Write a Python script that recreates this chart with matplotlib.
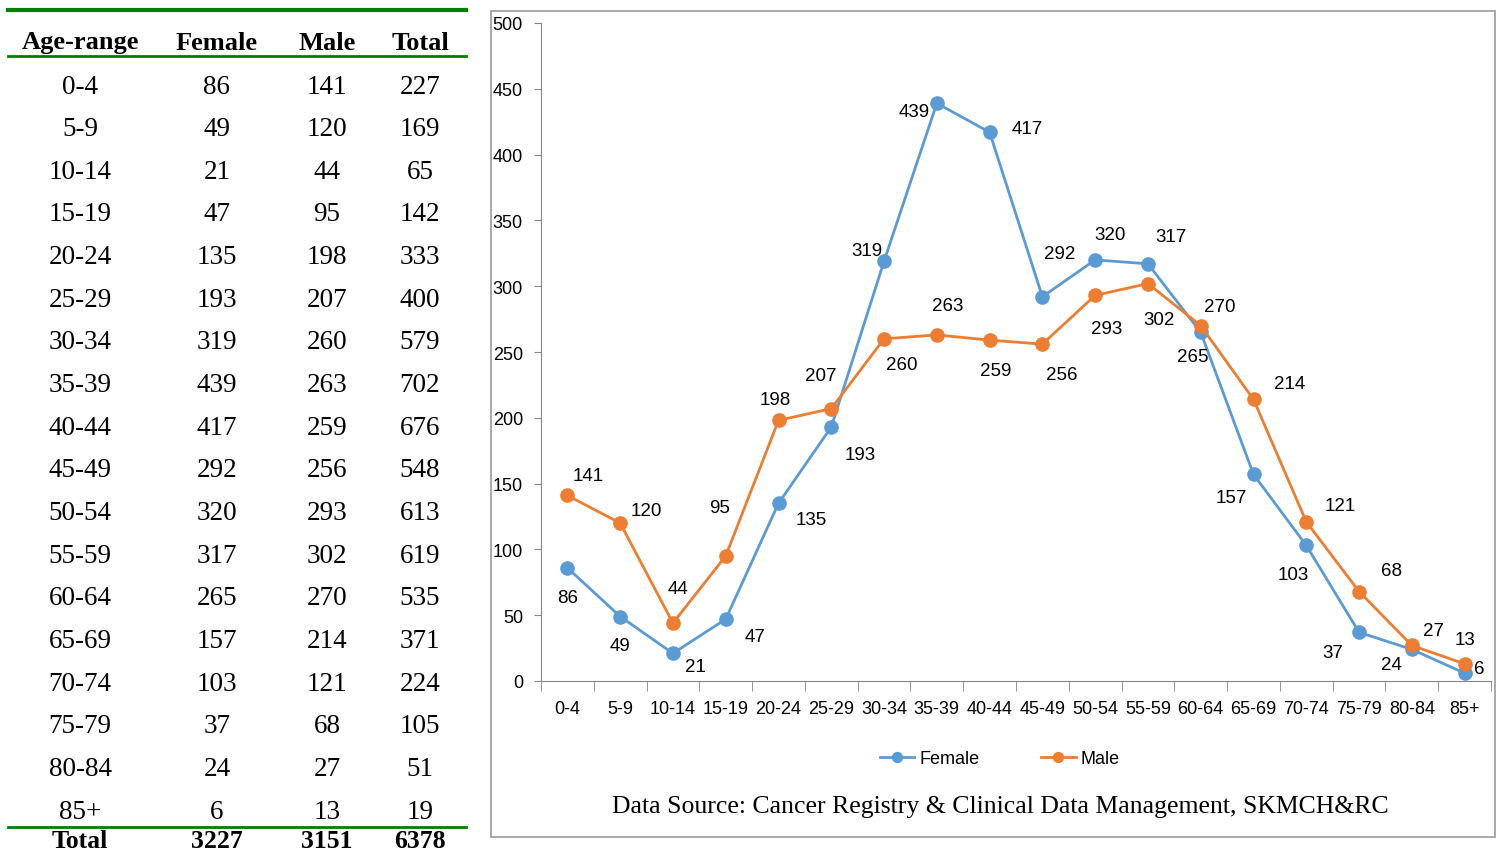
import matplotlib.pyplot as plt
from matplotlib.patches import Rectangle
from matplotlib.lines import Line2D
import numpy as np

# Datos
age_ranges = ["0-4", "5-9", "10-14", "15-19", "20-24", "25-29", "30-34", "35-39",
              "40-44", "45-49", "50-54", "55-59", "60-64", "65-69", "70-74",
              "75-79", "80-84", "85+"]
female = [86, 49, 21, 47, 135, 193, 319, 439, 417, 292, 320, 317, 265, 157, 103, 37, 24, 6]
male = [141, 120, 44, 95, 198, 207, 260, 263, 259, 256, 293, 302, 270, 214, 121, 68, 27, 13]
total = [227, 169, 65, 142, 333, 400, 579, 702, 676, 548, 613, 619, 535, 371, 224, 105, 51, 19]
sum_female, sum_male, sum_total = 3227, 3151, 6378
y_ticks = list(range(0, 501, 50))

# Desplazamiento de etiquetas (pixeles)
female_off = [(0, -28), (0, -27), (22, -11), (29, -15), (33, -14), (29, -25), (-17, 13), (-23, -6),
              (38, 6), (17, 45), (15, 27), (23, 29), (-8, -22), (-22, -21), (-13, -27), (-26, -18),
              (-20, -13), (15, 7)]
male_off = [(21, 22), (26, 15), (5, 37), (-6, 50), (-3, 23), (-11, 35), (18, -24), (11, 31),
            (6, -28), (19, -28), (11, -31), (11, -34), (19, 21), (36, 18), (34, 18), (32, 23),
            (22, 17), (0, 26)]

W, H = 1500, 854
fig = plt.figure(figsize=(15, 8.54), dpi=100)
fig.patch.set_facecolor("white")

def fx(px):
    return px / W

def fy(py):
    return 1 - py / H

# Tabla
serif = "Liberation Serif"
green = "#008000"
col_x = [80, 217, 327, 420]
header = ["Age-range", "Female", "Male", "Total"]
for cx, h in zip(col_x, header):
    fig.text(fx(cx), fy(43), h, ha="center", va="center", family=serif,
             fontsize=19, fontweight="bold")
for i in range(len(age_ranges)):
    yy = fy(87 + 42.65 * i)
    vals = [age_ranges[i], female[i], male[i], total[i]]
    for cx, v in zip(col_x, vals):
        fig.text(fx(cx), yy, str(v), ha="center", va="center", family=serif, fontsize=19.5)
for cx, v in zip(col_x, ["Total", sum_female, sum_male, sum_total]):
    fig.text(fx(cx), fy(842), str(v), ha="center", va="center", family=serif,
             fontsize=18.5, fontweight="bold")
for py, lw in [(11, 3), (57, 2), (828, 2)]:
    fig.add_artist(Line2D([fx(8), fx(466)], [fy(py), fy(py)], color=green, lw=lw))

# Marco del grafico
fig.add_artist(Rectangle((fx(491), fy(838)), fx(1004), 826 / H, fill=False,
                         edgecolor="#9a9a9a", lw=1.2))

# Grafico
ax = fig.add_axes([fx(541), fy(682), fx(950), (682 - 24) / H])
x = np.arange(len(age_ranges))
blue, orange = "#5B9BD5", "#ED7D31"
ax.plot(x, female, color=blue, lw=2, marker="o", ms=9.5, label="Female")
ax.plot(x, male, color=orange, lw=2, marker="o", ms=9.5, label="Male")

for xi, v, (dx, dy) in zip(x, female, female_off):
    ax.annotate(str(v), (xi, v), xytext=(dx, dy - 2), textcoords="offset pixels",
                ha="center", va="center", family="Liberation Sans", fontsize=13.5)
for xi, v, (dx, dy) in zip(x, male, male_off):
    ax.annotate(str(v), (xi, v), xytext=(dx, dy - 2), textcoords="offset pixels",
                ha="center", va="center", family="Liberation Sans", fontsize=13.5)

ax.set_xlim(-0.5, len(age_ranges) - 0.5)
ax.set_ylim(0, 500)
ax.set_yticks(y_ticks)
ax.set_xticks(x)
ax.set_xticklabels(age_ranges)
ax.set_xticks(np.arange(-0.5, len(age_ranges)), minor=True)
ax.tick_params(axis="x", which="major", length=0, pad=14, labelsize=13)
ax.tick_params(axis="x", which="minor", length=7, color="#868686", direction="out")
ax.tick_params(axis="y", length=5, color="#868686", pad=8, labelsize=13)
for lab in ax.get_xticklabels() + ax.get_yticklabels():
    lab.set_family("Liberation Sans")
for s in ["top", "right"]:
    ax.spines[s].set_visible(False)
for s in ["left", "bottom"]:
    ax.spines[s].set_color("#868686")

fig.legend(loc="center", bbox_to_anchor=(fx(1000), fy(760)), ncol=2, frameon=False,
           handlelength=1.9, handletextpad=0.3, columnspacing=3.4, markerscale=0.75,
           prop={"family": "Liberation Sans", "size": 13})

fig.text(fx(1000), fy(807), "Data Source: Cancer Registry & Clinical Data Management, SKMCH&RC",
         ha="center", va="center", family=serif, fontsize=18.5)

fig.savefig("out.png", dpi=100)
